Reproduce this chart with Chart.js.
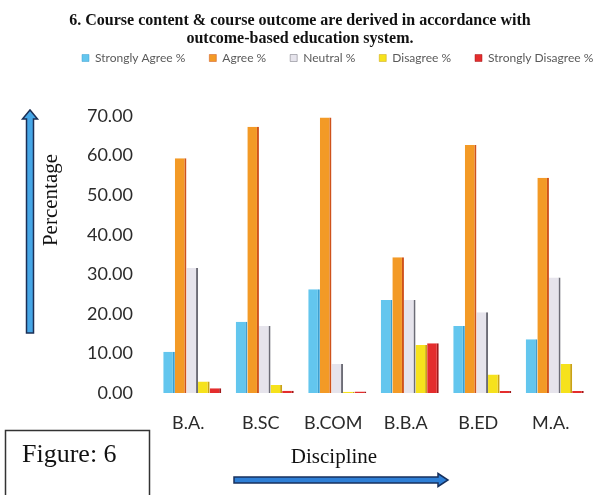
<!DOCTYPE html>
<html>
<head>
<meta charset="utf-8">
<script src="https://cdn.jsdelivr.net/npm/chart.js@4/dist/chart.umd.min.js"></script>
<style>
  html, body { margin: 0; padding: 0; background: #ffffff; }
  #wrap { width: 597px; height: 495px; }
</style>
</head>
<body>
<div id="wrap"><canvas id="chart" width="597" height="495"></canvas></div>
<script>
// Survey results by discipline (percent of respondents)
const disciplines = ['B.A.', 'B.SC', 'B.COM', 'B.B.A', 'B.ED', 'M.A.'];
const stronglyAgree    = [10.4, 18.0, 26.2, 23.5, 16.9, 13.6];
const agree            = [59.3, 67.3, 69.6, 34.3, 62.7, 54.4];
const neutral          = [31.6, 16.9,  7.3, 23.5, 20.4, 29.2];
const disagree         = [ 2.9,  2.0,  0.3, 12.1,  4.7,  7.3];
const stronglyDisagree = [ 1.2,  0.6,  0.4, 12.6,  0.5,  0.5];
const seriesNames = ['Strongly Agree %', 'Agree %', 'Neutral %', 'Disagree %', 'Strongly Disagree %'];
const yTickValues = [0, 10, 20, 30, 40, 50, 60, 70];
const titleLines = ['6. Course content & course outcome are derived in accordance with',
                    'outcome-based education system.'];

const fills = ['#63c6ee', '#f39a26', '#e6e4ec', '#f6e21c', '#e42d2d'];
const sides = ['#3c9fd0', '#cf521b', '#6c6c76', '#c9a215', '#a0191b'];
const seriesValues = [stronglyAgree, agree, neutral, disagree, stronglyDisagree];

function drawArrow(ctx, x1, y1, x2, y2, shaft, headW, headL, fill, stroke) {
  const dx = x2 - x1, dy = y2 - y1;
  const len = Math.hypot(dx, dy);
  const ux = dx / len, uy = dy / len;
  const px = -uy, py = ux;
  const bx = x2 - ux * headL, by = y2 - uy * headL;
  const s = shaft / 2, h = headW / 2;
  ctx.save();
  ctx.beginPath();
  ctx.moveTo(x1 + px * s, y1 + py * s);
  ctx.lineTo(bx + px * s, by + py * s);
  ctx.lineTo(bx + px * h, by + py * h);
  ctx.lineTo(x2, y2);
  ctx.lineTo(bx - px * h, by - py * h);
  ctx.lineTo(bx - px * s, by - py * s);
  ctx.lineTo(x1 - px * s, y1 - py * s);
  ctx.closePath();
  ctx.fillStyle = fill;
  ctx.fill();
  ctx.lineWidth = 1.5;
  ctx.strokeStyle = stroke;
  ctx.stroke();
  ctx.restore();
}

// Headings, axis captions and the figure tag around the plot
const decorations = {
  id: 'decorations',
  afterDraw(chart) {
    const ctx = chart.ctx;
    ctx.save();
    ctx.fillStyle = '#111';
    ctx.textAlign = 'center';
    ctx.textBaseline = 'alphabetic';
    ctx.font = 'bold 16px "Liberation Serif"';
    ctx.fillText(titleLines[0], 300, 25);
    ctx.fillText(titleLines[1], 300, 43);

    // vertical arrow + caption
    drawArrow(ctx, 30, 333, 30, 110, 7, 15, 9, '#46a6e6', '#1b2f55');
    ctx.save();
    ctx.translate(57, 200);
    ctx.rotate(-Math.PI / 2);
    ctx.font = '21px "Liberation Serif"';
    ctx.fillStyle = '#111';
    ctx.fillText('Percentage', 0, 0);
    ctx.restore();

    // figure tag
    ctx.lineWidth = 1.5;
    ctx.strokeStyle = '#333';
    ctx.strokeRect(5.5, 430.5, 144, 80);
    ctx.fillStyle = '#111';
    ctx.textAlign = 'left';
    ctx.font = '26px "Liberation Serif"';
    ctx.fillText('Figure: 6', 22, 462);

    // horizontal arrow + caption
    ctx.textAlign = 'center';
    ctx.font = '21px "Liberation Serif"';
    ctx.fillText('Discipline', 334, 463);
    drawArrow(ctx, 234, 480, 448, 480, 6, 13, 10, '#2e7fd6', '#17315e');
    ctx.restore();
  }
};

const chart = new Chart(document.getElementById('chart'), {
  type: 'bar',
  data: {
    labels: disciplines,
    datasets: seriesNames.map((name, i) => ({
      label: name,
      data: seriesValues[i],
      backgroundColor: fills[i],
      borderColor: sides[i],
      borderWidth: { top: 0, right: 2, bottom: 0, left: 0 },
      borderSkipped: false,
      categoryPercentage: 0.8,
      barPercentage: 1.0,
      xAxisID: 'x',
      yAxisID: 'y'
    }))
  },
  options: {
    responsive: false,
    devicePixelRatio: 1,
    animation: false,
    layout: { padding: { top: 28, left: 58, right: -25, bottom: 0 } },
    plugins: {
      title: { display: false },
      tooltip: { enabled: false },
      legend: {
        position: 'top',
        align: 'start',
        labels: {
          boxWidth: 7,
          boxHeight: 7,
          padding: 24,
          color: '#5a5a5a',
          font: { family: 'Lato', size: 12 }
        }
      }
    },
    scales: {
      x: {
        position: 'bottom',
        grid: { display: false, drawTicks: false },
        border: { display: false },
        ticks: { color: '#2b2b2b', padding: 19, labelOffset: -4, font: { family: 'Lato', size: 18 } },
        afterFit(scale) { scale.height = 102; }
      },
      y: {
        position: 'left',
        min: 0,
        max: 70,
        afterBuildTicks(scale) { scale.ticks = yTickValues.map(v => ({ value: v })); },
        grid: { display: false, drawTicks: false },
        border: { display: false },
        ticks: {
          color: '#2b2b2b',
          padding: 23,
          font: { family: 'Lato', size: 18 },
          callback: v => Number(v).toFixed(2)
        },
        afterFit(scale) { scale.width = 98; }
      },
      gapTop: {
        type: 'linear',
        axis: 'x',
        position: 'top',
        grid: { display: false, drawTicks: false },
        border: { display: false },
        ticks: { display: false },
        afterFit(scale) { scale.height = 42; }
      },
      gapRight: {
        type: 'linear',
        axis: 'y',
        position: 'right',
        grid: { display: false, drawTicks: false },
        border: { display: false },
        ticks: { display: false },
        afterFit(scale) { scale.width = 31; }
      }
    }
  },
  plugins: [decorations]
});
</script>
</body>
</html>
